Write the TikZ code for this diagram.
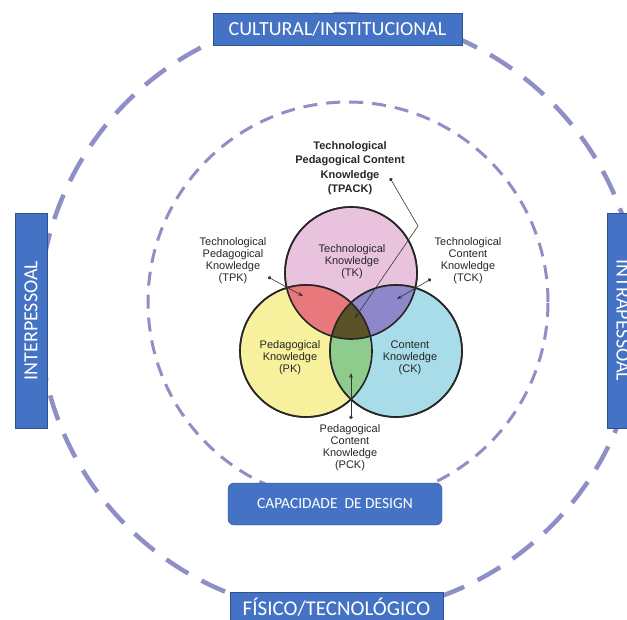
\documentclass[tikz,border=0pt]{standalone}
\usepackage{fontspec}
\setmainfont{Liberation Sans}
\newfontfamily\boxfont{Carlito}
\usetikzlibrary{arrows.meta}

\definecolor{ring}{RGB}{143,143,199}
\definecolor{boxblue}{RGB}{68,114,196}
\definecolor{boxline}{RGB}{47,82,143}
\definecolor{tkcol}{RGB}{233,195,221}
\definecolor{pkcol}{RGB}{247,240,156}
\definecolor{ckcol}{RGB}{168,220,232}
\definecolor{tpkcol}{RGB}{232,120,124}
\definecolor{tckcol}{RGB}{142,135,201}
\definecolor{pckcol}{RGB}{143,203,140}
\definecolor{tpackcol}{RGB}{92,82,40}

\tikzset{
  ctx/.style={draw=boxline, fill=boxblue, text=white, inner sep=0pt,
    font=\boxfont\fontsize{20}{22}\selectfont},
  know/.style={circle, draw=black!85, line width=1.6pt, minimum size=132pt, inner sep=0pt},
  lbl/.style={align=center, text=black!85, font=\fontsize{11}{12}\selectfont},
  ptr/.style={black!80, line width=0.6pt, {Circle[length=3.5pt]}-{Stealth[length=5pt]}},
}

\begin{document}
\begin{tikzpicture}[x=1pt,y=-1pt]
  \useasboundingbox (0,0) rectangle (627,619);
  \clip (0,0) rectangle (627,619);

  % dashed rings
  \draw[ring, line width=4.5pt, dash pattern=on 26pt off 15pt] (339,314) circle (300pt);
  \draw[ring, line width=3pt, dash pattern=on 14pt off 9pt] (348,302) circle (200pt);

  % the three circles
  \node[know, fill=tkcol] (TK) at (351,273) {};
  \node[know, fill=pkcol] (PK) at (306,351) {};
  \node[know, fill=ckcol] (CK) at (396,351) {};

  \begin{scope}
    \clip (TK.center) circle (66pt);
    \fill[tpkcol] (PK.center) circle (66pt);
    \fill[tckcol] (CK.center) circle (66pt);
  \end{scope}
  \begin{scope}
    \clip (PK.center) circle (66pt);
    \fill[pckcol] (CK.center) circle (66pt);
    \clip (TK.center) circle (66pt);
    \fill[tpackcol] (CK.center) circle (66pt);
  \end{scope}
  \foreach \c in {TK,PK,CK}
    \draw[black!85, line width=1.6pt] (\c.center) circle (66pt);

  % labels
  \node[lbl] (tkl)   at (352,262) {Technological\\Knowledge\\(TK)};
  \node[lbl] (pkl)   at (290,358) {Pedagogical\\Knowledge\\(PK)};
  \node[lbl] (ckl)   at (410,358) {Content\\Knowledge\\(CK)};
  \node[lbl] (tpkl)  at (233,261) {Technological\\Pedagogical\\Knowledge\\(TPK)};
  \node[lbl] (tckl)  at (468,261) {Technological\\Content\\Knowledge\\(TCK)};
  \node[lbl] (pckl)  at (350,448) {Pedagogical\\Content\\Knowledge\\(PCK)};
  \node[lbl, font=\bfseries\fontsize{11}{14.5}\selectfont] (tpackl) at (350,168)
    {Technological\\Pedagogical Content\\Knowledge\\(TPACK)};

  % pointers
  \coordinate (tpackdot)  at (390,178);
  \coordinate (tpackbend) at (418,226);
  \coordinate (tpacktip)  at (355,318);
  \coordinate (tpkdot)    at (268,277);
  \coordinate (tpktip)    at (303,296);
  \coordinate (tckdot)    at (431,279);
  \coordinate (tcktip)    at (397,299);
  \coordinate (pckdot)    at (351,419);
  \coordinate (pcktip)    at (351,373);
  \draw[ptr] (tpackdot) -- (tpackbend) -- (tpacktip);
  \draw[ptr] (tpkdot) -- (tpktip);
  \draw[ptr] (tckdot) -- (tcktip);
  \draw[ptr] (pckdot) -- (pcktip);

  % context boxes
  \node[ctx, minimum width=249pt, minimum height=32pt] (cult) at (337.5,29) {CULTURAL/INSTITUCIONAL};
  \node[ctx, minimum width=215pt, minimum height=32pt, rotate=90] (inter) at (31,320.5) {INTERPESSOAL};
  \node[ctx, minimum width=215pt, minimum height=32pt, rotate=-90] (intra) at (623,320.5) {INTRAPESSOAL};
  \node[ctx, rounded corners=6pt, minimum width=214pt, minimum height=42pt,
    font=\boxfont\fontsize{15.5}{17}\selectfont] (design) at (335,504) {CAPACIDADE\ \ DE DESIGN};
  \node[ctx, minimum width=213pt, minimum height=30pt,
    font=\boxfont\fontsize{21}{23}\selectfont] (fisico) at (336.5,607) {FÍSICO/TECNOLÓGICO};
\end{tikzpicture}
\end{document}
